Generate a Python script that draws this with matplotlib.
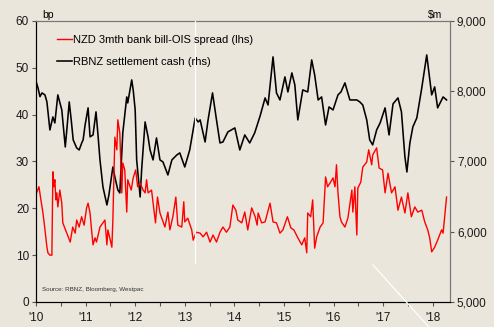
"""NZD bank bill-OIS spread vs RBNZ settlement cash, 2010-2018."""

import matplotlib

matplotlib.use("Agg")
import matplotlib.pyplot as plt
from matplotlib.lines import Line2D

plt.rcParams["font.family"] = ["Liberation Sans", "DejaVu Sans"]

BG = "#EAE6DC"

# RBNZ settlement cash, $m (rhs), decimal year
cash_year = [
    2010.01, 2010.04, 2010.08, 2010.12, 2010.18, 2010.22, 2010.28, 2010.34, 2010.38, 2010.44,
    2010.52, 2010.59, 2010.63, 2010.67, 2010.71, 2010.75, 2010.82, 2010.87, 2010.93, 2010.95,
    2010.99, 2011.05, 2011.09, 2011.15, 2011.21, 2011.25, 2011.29, 2011.35, 2011.43, 2011.47,
    2011.55, 2011.59, 2011.65, 2011.69, 2011.75, 2011.83, 2011.85, 2011.93, 2011.96, 2012.00,
    2012.03, 2012.10, 2012.13, 2012.20, 2012.26, 2012.30, 2012.36, 2012.43, 2012.50, 2012.56,
    2012.66, 2012.74, 2012.84, 2012.90, 2013.00, 2013.10, 2013.21, 2013.27, 2013.31, 2013.41,
    2013.47, 2013.56, 2013.64, 2013.71, 2013.77, 2013.87, 2014.01, 2014.11, 2014.21, 2014.31,
    2014.41, 2014.52, 2014.62, 2014.68, 2014.78, 2014.85, 2014.92, 2015.02, 2015.08, 2015.16,
    2015.22, 2015.28, 2015.38, 2015.48, 2015.56, 2015.62, 2015.69, 2015.76, 2015.84, 2015.91,
    2015.99, 2016.09, 2016.15, 2016.23, 2016.33, 2016.47, 2016.53, 2016.59, 2016.67, 2016.73,
    2016.79, 2016.87, 2016.94, 2017.04, 2017.12, 2017.20, 2017.30, 2017.37, 2017.44, 2017.48,
    2017.54, 2017.60, 2017.68, 2017.78, 2017.88, 2017.98, 2018.04, 2018.10, 2018.18, 2018.21,
    2018.28,
]
cash = [
    8119, 8047, 7923, 7976, 7948, 7848, 7449, 7634, 7549, 7948,
    7734, 7207, 7520, 7848, 7592, 7307, 7193, 7164, 7278, 7307,
    7520, 7763, 7350, 7378, 7706, 7378, 7022, 6638, 6381, 6524,
    6922, 6780, 6595, 6552, 7407, 7919, 7834, 8161, 8019, 7734,
    7022, 6495, 6880, 7563, 7350, 7164, 7022, 7335, 7022, 6994,
    6808, 7022, 7093, 7122, 6922, 7164, 7620, 7563, 7592, 7278,
    7592, 7976, 7592, 7264, 7278, 7421, 7478, 7164, 7378, 7264,
    7407, 7649, 7905, 7805, 8489, 7976, 7876, 8204, 7990, 8261,
    8090, 7592, 8019, 7990, 8446, 8232, 7876, 7919, 7520, 7777,
    7734, 7948, 7990, 8119, 7876, 7876, 7848, 7805, 7592, 7307,
    7236, 7449, 7549, 7763, 7378, 7820, 7905, 7706, 7065, 6851,
    7264, 7492, 7620, 8047, 8517, 7948, 8062, 7763, 7876, 7919,
    7876,
]

# NZD 3mth bank bill-OIS spread, bp (lhs), decimal year
spread_year = [
    2010.01, 2010.06, 2010.09, 2010.14, 2010.17, 2010.22, 2010.24, 2010.28, 2010.32, 2010.34,
    2010.36, 2010.38, 2010.40, 2010.42, 2010.44, 2010.48, 2010.52, 2010.54, 2010.62, 2010.69,
    2010.74, 2010.79, 2010.82, 2010.87, 2010.92, 2010.97, 2011.02, 2011.05, 2011.09, 2011.12,
    2011.15, 2011.19, 2011.22, 2011.29, 2011.35, 2011.39, 2011.43, 2011.45, 2011.53, 2011.55,
    2011.59, 2011.63, 2011.65, 2011.69, 2011.73, 2011.75, 2011.79, 2011.83, 2011.85, 2011.92,
    2011.96, 2012.01, 2012.05, 2012.10, 2012.16, 2012.20, 2012.23, 2012.26, 2012.33, 2012.41,
    2012.45, 2012.50, 2012.60, 2012.66, 2012.70, 2012.76, 2012.82, 2012.86, 2012.94, 2012.98,
    2013.00, 2013.06, 2013.14, 2013.17, 2013.23, 2013.31, 2013.37, 2013.44, 2013.51, 2013.57,
    2013.64, 2013.71, 2013.77, 2013.84, 2013.91, 2013.97, 2014.03, 2014.07, 2014.15, 2014.21,
    2014.27, 2014.35, 2014.42, 2014.46, 2014.48, 2014.55, 2014.62, 2014.72, 2014.78, 2014.85,
    2014.92, 2014.98, 2015.07, 2015.14, 2015.20, 2015.28, 2015.36, 2015.42, 2015.46, 2015.48,
    2015.54, 2015.58, 2015.62, 2015.66, 2015.73, 2015.79, 2015.84, 2015.88, 2015.93, 2015.99,
    2016.03, 2016.06, 2016.09, 2016.13, 2016.16, 2016.23, 2016.29, 2016.37, 2016.39, 2016.43,
    2016.47, 2016.49, 2016.55, 2016.59, 2016.67, 2016.71, 2016.77, 2016.79, 2016.87, 2016.92,
    2016.99, 2017.04, 2017.10, 2017.17, 2017.24, 2017.30, 2017.37, 2017.44, 2017.50, 2017.57,
    2017.64, 2017.70, 2017.78, 2017.84, 2017.90, 2017.94, 2017.98, 2018.04, 2018.10, 2018.18,
    2018.21, 2018.28,
]
spread = [
    23.3, 24.6, 22.4, 19.0, 16.4, 11.7, 10.5, 10.0, 10.0, 27.8,
    24.6, 26.1, 21.8, 23.3, 20.3, 23.9, 21.1, 16.9, 14.7, 12.8,
    16.0, 14.7, 17.5, 16.0, 18.2, 16.4, 20.1, 21.1, 19.0, 15.4,
    12.2, 13.7, 12.8, 16.0, 16.9, 17.5, 12.2, 15.4, 11.7, 17.5,
    35.2, 32.5, 38.9, 36.1, 23.3, 29.7, 28.2, 19.2, 26.1, 23.9,
    26.5, 28.2, 24.6, 25.4, 23.9, 23.3, 26.1, 23.3, 23.9, 16.9,
    22.4, 19.0, 16.0, 19.2, 15.4, 18.2, 22.4, 16.4, 16.0, 21.4,
    17.1, 17.9, 15.4, 13.2, 14.9, 14.7, 13.9, 14.9, 12.8, 14.3,
    12.8, 14.9, 16.0, 14.9, 16.0, 20.7, 19.6, 17.5, 16.9, 19.2,
    15.4, 20.1, 18.2, 16.4, 19.0, 16.9, 17.1, 21.1, 17.1, 16.9,
    14.7, 15.4, 18.2, 15.8, 15.4, 13.7, 12.2, 13.7, 10.5, 19.0,
    18.2, 21.8, 11.5, 13.9, 16.0, 16.9, 26.7, 24.6, 25.4, 26.5,
    24.6, 29.3, 23.3, 18.2, 17.1, 16.0, 17.9, 23.9, 19.2, 24.6,
    14.3, 24.3, 25.6, 28.8, 29.9, 32.5, 29.3, 31.4, 32.9, 28.6,
    28.2, 23.3, 27.5, 23.3, 24.6, 19.6, 22.4, 19.0, 23.3, 18.2,
    20.3, 19.2, 19.6, 17.1, 15.4, 13.7, 10.7, 11.7, 13.2, 15.4,
    14.7, 22.4,
]

years = list(range(2010, 2019))
year_labels = ["'%02d" % (y % 100) for y in years]
half_years = [y + 0.5 for y in range(2010, 2018)]
lhs_ticks = [0, 10, 20, 30, 40, 50, 60]
rhs_ticks = [5000, 6000, 7000, 8000, 9000]

fig = plt.figure(figsize=(4.94, 3.27), dpi=100, facecolor=BG)
ax = fig.add_axes([0.0729, 0.0765, 0.8381, 0.8593])
ax2 = ax.twinx()
ax.set_zorder(ax2.get_zorder() + 1)
ax.patch.set_visible(False)
ax2.patch.set_facecolor(BG)

ax2.plot(cash_year, cash, color="black", lw=1.15)
ax.plot(spread_year, spread, color="#FF0000", lw=1.0)

ax.set_xlim(2010, 2018.35)
ax.set_ylim(0, 60)
ax2.set_ylim(5000, 9000)

ax.set_xticks(years)
ax.set_xticklabels(year_labels)
ax.set_xticks(half_years, minor=True)
ax.set_yticks(lhs_ticks)
ax2.set_yticks(rhs_ticks)
ax2.set_yticklabels(["{:,}".format(v) for v in rhs_ticks])

for a in (ax, ax2):
    a.tick_params(which="both", direction="out", length=3, width=0.8,
                  labelsize=8.5, pad=2, colors="#555555", labelcolor="#1a1a1a")
    a.spines["top"].set_color("#777777")
    a.spines["right"].set_color("#777777")
    a.spines["left"].set_color("black")
    a.spines["bottom"].set_color("black")
ax.tick_params(axis="x", pad=4)

fig.text(0.085, 0.955, "bp", fontsize=7.5, ha="left", va="center")
fig.text(0.895, 0.955, "$m", fontsize=7.5, ha="right", va="center")

handles = [
    Line2D([], [], color="#FF0000", lw=1.0),
    Line2D([], [], color="black", lw=1.15),
]
ax.legend(handles, ["NZD 3mth bank bill-OIS spread (lhs)", "RBNZ settlement cash (rhs)"],
          loc="upper left", bbox_to_anchor=(0.05, 0.95), frameon=False,
          fontsize=8, handlelength=1.4, handletextpad=0.1, labelspacing=1.1,
          borderpad=0, borderaxespad=0)

ax.text(0.015, 0.04, "Source: RBNZ, Bloomberg, Westpac", transform=ax.transAxes,
        fontsize=4.5, color="#333333")

# white scan streaks seen on the original image
ax.axvline(2013.21, ymin=0.14, ymax=1.0, color="white", lw=0.9, zorder=5)
fig.add_artist(Line2D([0.755, 0.868], [0.19, 0.0], color="white", lw=0.9))

fig.savefig("out.png", dpi=100, facecolor=BG)
